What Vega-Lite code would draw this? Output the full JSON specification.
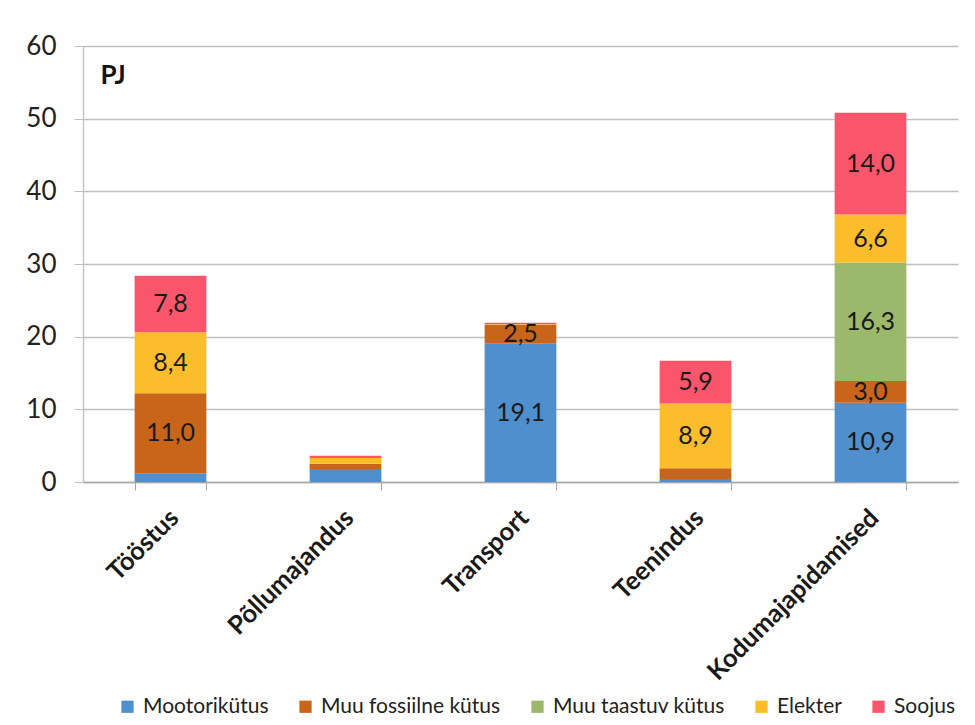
{
  "$schema": "https://vega.github.io/schema/vega-lite/v6.json",
  "width": 875,
  "height": 436,
  "autosize": "none",
  "padding": {"left": 83, "top": 46, "right": 17, "bottom": 243},
  "background": "white",
  "config": {
    "locale": {"number": {"decimal": ",", "thousands": " ", "grouping": [3], "currency": ["", " €"]}},
    "font": "Lato",
    "view": {"stroke": null}
  },
  "data": {
    "values": [
      {"sektor": "Tööstus", "kytus": "Mootorikütus", "k": 1, "pj": 1.2},
      {"sektor": "Tööstus", "kytus": "Muu fossiilne kütus", "k": 2, "pj": 11.0},
      {"sektor": "Tööstus", "kytus": "Elekter", "k": 4, "pj": 8.4},
      {"sektor": "Tööstus", "kytus": "Soojus", "k": 5, "pj": 7.8},
      {"sektor": "Põllumajandus", "kytus": "Mootorikütus", "k": 1, "pj": 1.8},
      {"sektor": "Põllumajandus", "kytus": "Muu fossiilne kütus", "k": 2, "pj": 0.7},
      {"sektor": "Põllumajandus", "kytus": "Elekter", "k": 4, "pj": 0.8},
      {"sektor": "Põllumajandus", "kytus": "Soojus", "k": 5, "pj": 0.3},
      {"sektor": "Transport", "kytus": "Mootorikütus", "k": 1, "pj": 19.1},
      {"sektor": "Transport", "kytus": "Muu fossiilne kütus", "k": 2, "pj": 2.5},
      {"sektor": "Transport", "kytus": "Elekter", "k": 4, "pj": 0.1},
      {"sektor": "Transport", "kytus": "Soojus", "k": 5, "pj": 0.2},
      {"sektor": "Teenindus", "kytus": "Mootorikütus", "k": 1, "pj": 0.4},
      {"sektor": "Teenindus", "kytus": "Muu fossiilne kütus", "k": 2, "pj": 1.5},
      {"sektor": "Teenindus", "kytus": "Elekter", "k": 4, "pj": 8.9},
      {"sektor": "Teenindus", "kytus": "Soojus", "k": 5, "pj": 5.9},
      {"sektor": "Kodumajapidamised", "kytus": "Mootorikütus", "k": 1, "pj": 10.9},
      {"sektor": "Kodumajapidamised", "kytus": "Muu fossiilne kütus", "k": 2, "pj": 3.0},
      {"sektor": "Kodumajapidamised", "kytus": "Muu taastuv kütus", "k": 3, "pj": 16.3},
      {"sektor": "Kodumajapidamised", "kytus": "Elekter", "k": 4, "pj": 6.6},
      {"sektor": "Kodumajapidamised", "kytus": "Soojus", "k": 5, "pj": 14.0}
    ]
  },
  "transform": [
    {"stack": "pj", "groupby": ["sektor"], "sort": [{"field": "k", "order": "ascending"}], "as": ["v0", "v1"]}
  ],
  "encoding": {
    "x": {
      "field": "sektor",
      "type": "nominal",
      "sort": ["Tööstus", "Põllumajandus", "Transport", "Teenindus", "Kodumajapidamised"],
      "scale": {"paddingInner": 0.59, "paddingOuter": 0.295},
      "axis": {
        "title": null,
        "labelAngle": -45,
        "labelFontSize": 25.5,
        "labelFontWeight": "bold",
        "labelColor": "#1A1A1A",
        "labelPadding": 15,
        "labelOffset": -5,
        "labelLimit": 0,
        "tickBand": "extent",
        "tickSize": 8,
        "tickColor": "#A6A6A6",
        "domainColor": "#A6A6A6",
        "domainWidth": 1.3,
        "grid": false
      }
    }
  },
  "layer": [
    {
      "mark": {"type": "bar"},
      "encoding": {
        "y": {
          "field": "v0",
          "type": "quantitative",
          "scale": {"domain": [0, 60]},
          "axis": {
            "values": [0, 10, 20, 30, 40, 50, 60],
            "title": "PJ",
            "titleAngle": 0,
            "titleX": 17,
            "titleY": 37,
            "titleAlign": "left",
            "titleBaseline": "alphabetic",
            "titleFontSize": 26,
            "titleFontWeight": "bold",
            "titleColor": "#111111",
            "labelFontSize": 26,
            "labelColor": "#222222",
            "labelPadding": 18,
            "tickSize": 9,
            "tickColor": "#BFBFBF",
            "domainColor": "#BFBFBF",
            "domainWidth": 1.3,
            "gridColor": "#BFBFBF",
            "gridWidth": 1.3
          }
        },
        "y2": {"field": "v1"},
        "color": {
          "field": "kytus",
          "type": "nominal",
          "scale": {
            "domain": ["Mootorikütus", "Muu fossiilne kütus", "Muu taastuv kütus", "Elekter", "Soojus"],
            "range": ["#4F8FCD", "#C9651B", "#9BB86B", "#FCBD2D", "#F9556B"]
          },
          "legend": {
            "title": null,
            "orient": "none",
            "direction": "horizontal",
            "legendX": 34,
            "legendY": 650,
            "symbolType": "square",
            "symbolSize": 150,
            "symbolStrokeWidth": 0,
            "labelFontSize": 21,
            "labelLimit": 0,
            "labelColor": "#222222",
            "labelOffset": 5,
            "columnPadding": 26
          }
        }
      }
    },
    {
      "transform": [
        {"filter": "datum.pj >= 2.5"},
        {"calculate": "(datum.v0 + datum.v1) / 2", "as": "keskkoht"}
      ],
      "mark": {"type": "text", "fontSize": 25, "color": "#1A1A1A", "baseline": "middle"},
      "encoding": {
        "y": {"field": "keskkoht", "type": "quantitative"},
        "text": {"field": "pj", "type": "quantitative", "format": ".1f"}
      }
    }
  ]
}
